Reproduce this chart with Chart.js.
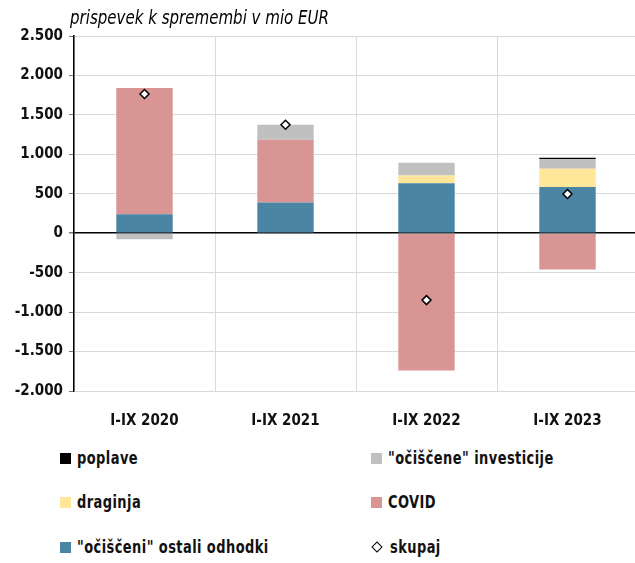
<!DOCTYPE html>
<html>
<head>
<meta charset="utf-8">
<script src="https://cdn.jsdelivr.net/npm/chart.js@4"></script>
<style>
  body { margin: 0; background: #fff; }
  #wrap { position: relative; width: 635px; height: 563px; overflow: hidden; font-family: "Liberation Sans Narrow", "DejaVu Sans Condensed", sans-serif; }
  #title { position: absolute; left: 70px; top: 6px; font-size: 19px; font-style: italic; color: #000; white-space: nowrap; transform: scaleX(0.88); transform-origin: left top; }
  #box { position: absolute; left: 0; top: 0; width: 644px; height: 432px; }
  .leg { position: absolute; font-size: 17px; font-weight: bold; color: #111; white-space: nowrap; line-height: 20px; }
  .txt { display: inline-block; transform: scaleX(0.85); transform-origin: left center; letter-spacing: 0.5px; }
  .sw { display: inline-block; width: 11px; height: 11px; margin-right: 6px; vertical-align: 0px; }
</style>
</head>
<body>
<div id="wrap">
  <div id="box"><canvas id="chart"></canvas></div>
  <div id="title">prispevek k spremembi v mio EUR</div>
  <div id="legend"></div>
</div>
<script>
var categories = ['I-IX 2020', 'I-IX 2021', 'I-IX 2022', 'I-IX 2023'];
var ostaliOdhodki = [240, 390, 635, 585];
var covid = [1600, 795, -1740, -460];
var draginja = [0, 0, 97, 232];
var investicije = [-75, 190, 160, 125];
var poplave = [0, 0, 0, 15];
var skupaj = [1765, 1375, -848, 497];
var yTicks = [2500, 2000, 1500, 1000, 500, 0, -500, -1000, -1500, -2000];

var colors = {
    poplave: '#000000',
    investicije: '#c0c0c0',
    draginja: '#ffe699',
    covid: '#d99594',
    ostali: '#4a86a3'
};

function fmt(v) {
    var s = Math.abs(v).toString().replace(/\B(?=(\d{3})+(?!\d))/g, '.');
    return (v < 0 ? '-' : '') + s;
}

var font = { family: '"Liberation Sans Narrow", "DejaVu Sans Condensed", sans-serif', size: 15, weight: 'bold' };

var ctx = document.getElementById('chart').getContext('2d');
new Chart(ctx, {
    data: {
        labels: categories,
        datasets: [
            { type: 'bar', label: '"očiščeni" ostali odhodki', data: ostaliOdhodki, backgroundColor: colors.ostali, order: 2 },
            { type: 'bar', label: 'COVID', data: covid, backgroundColor: colors.covid, order: 2 },
            { type: 'bar', label: 'draginja', data: draginja, backgroundColor: colors.draginja, order: 2 },
            { type: 'bar', label: '"očiščene" investicije', data: investicije, backgroundColor: colors.investicije, order: 2 },
            { type: 'bar', label: 'poplave', data: poplave, backgroundColor: colors.poplave, order: 2 },
            {
                type: 'line', label: 'skupaj', data: skupaj, showLine: false, order: 1,
                pointStyle: 'rectRot', pointRadius: 4.5, pointBackgroundColor: '#fff',
                pointBorderColor: '#000', pointBorderWidth: 1.5
            }
        ]
    },
    options: {
        responsive: true,
        maintainAspectRatio: false,
        animation: false,
        layout: { padding: { top: 36, right: 0, left: 0, bottom: 0 } },
        plugins: { legend: { display: false }, tooltip: { enabled: false } },
        datasets: { bar: { barPercentage: 0.4, categoryPercentage: 1.0, stack: 's' } },
        scales: {
            x: {
                stacked: true,
                grid: { offset: true, color: '#d9d9d9', drawTicks: false },
                border: { display: false },
                ticks: { color: '#111', font: font, padding: 21 },
                afterFit: function (s) { s.height = 41; }
            },
            y: {
                stacked: true,
                min: -2000, max: 2500,
                afterBuildTicks: function (s) { s.ticks = yTicks.map(function (v) { return { value: v }; }); },
                grid: {
                    color: function (c) { return c.tick && c.tick.value === 0 ? '#000' : '#d9d9d9'; },
                    lineWidth: function (c) { return c.tick && c.tick.value === 0 ? 1.5 : 1; },
                    tickColor: '#777', tickLength: 5
                },
                border: { color: '#000', width: 1.5 },
                ticks: { color: '#111', font: font, padding: 6, callback: function (v) { return fmt(v); } },
                afterFit: function (s) { s.width = 74; }
            }
        }
    }
});

// two-column legend under the chart
var legendItems = [
    { label: 'poplave', color: colors.poplave, x: 60, y: 448 },
    { label: '"očiščene" investicije', color: colors.investicije, x: 371, y: 448 },
    { label: 'draginja', color: colors.draginja, x: 60, y: 492 },
    { label: 'COVID', color: colors.covid, x: 371, y: 492 },
    { label: '"očiščeni" ostali odhodki', color: colors.ostali, x: 60, y: 537 },
    { label: 'skupaj', color: null, x: 371, y: 537 }
];
var lg = document.getElementById('legend');
legendItems.forEach(function (it) {
    var d = document.createElement('div');
    d.className = 'leg';
    d.style.left = it.x + 'px';
    d.style.top = it.y + 'px';
    var sw = document.createElement('span');
    sw.className = 'sw';
    if (it.color) {
        sw.style.background = it.color;
    } else {
        sw.style.width = '6px'; sw.style.height = '6px';
        sw.style.border = '1px solid #000'; sw.style.transform = 'rotate(45deg)';
        sw.style.marginLeft = '2px'; sw.style.marginRight = '9px'; sw.style.verticalAlign = '2px';
    }
    d.appendChild(sw);
    var t = document.createElement('span');
    t.className = 'txt';
    t.textContent = it.label;
    d.appendChild(t);
    lg.appendChild(d);
});
</script>
</body>
</html>
